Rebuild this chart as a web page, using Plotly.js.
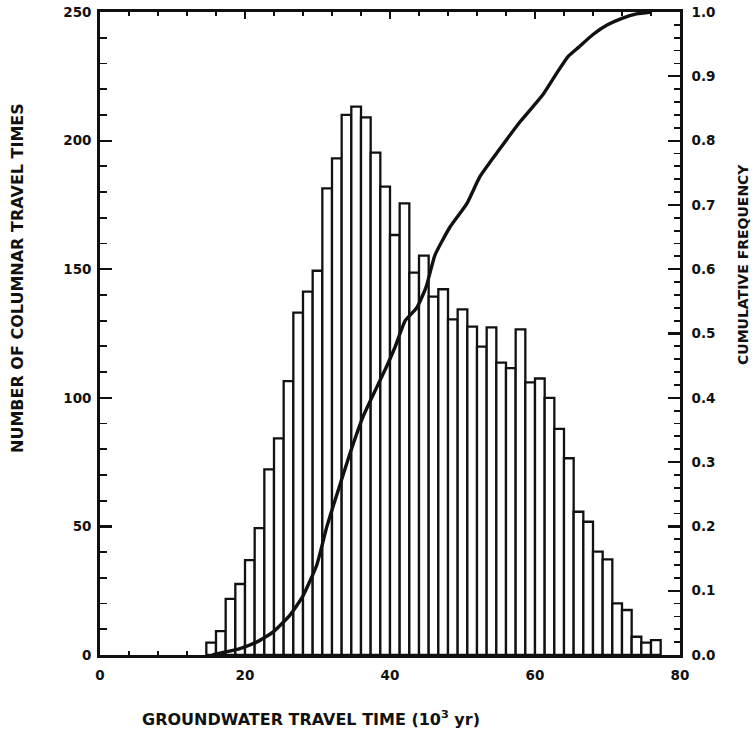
<!DOCTYPE html>
<html>
<head>
<meta charset="utf-8">
<script src="https://cdn.plot.ly/plotly-3.0.1.min.js"></script>
<style>html,body{margin:0;padding:0;background:#fff;}#chart{width:754px;height:735px;}</style>
</head>
<body>
<div id="chart"></div>
<script>
// Histogram counts (bins of 4/3 x 10^3 yr, first bin starting at 44/3)
const counts = [4.8, 9.3, 21.8, 27.6, 36.9, 49.3, 72.2, 84.2, 106.5, 133.1,
  141.3, 149.4, 181.4, 193.1, 210, 213.2, 209, 195.3, 182.1, 163.3,
  175.6, 148.7, 155.3, 139.3, 142.2, 130.5, 134.4, 127.7, 119.9, 127.4,
  113.7, 111.5, 126.6, 106.0, 107.5, 100, 87.9, 76.5, 55.7, 51.8,
  40.2, 37.2, 20.1, 17.5, 7.1, 4.8, 5.8];

// Cumulative frequency curve
const cumX = [15.5, 17, 19.3, 21.6, 23.9, 26.2, 28, 29.9, 31.3, 32.4, 34.5, 36.3, 38.2, 39.5,
  40.7, 42.1, 43.7, 45.0, 46.2, 48.3, 50.6, 52.4, 55, 58, 61, 63, 64.5, 66, 68, 70, 72, 74, 76];
const cumY = [0, 0.004, 0.01, 0.02, 0.036, 0.062, 0.092, 0.14, 0.2, 0.24, 0.314, 0.371, 0.417, 0.448,
  0.479, 0.52, 0.54, 0.573, 0.622, 0.666, 0.702, 0.744, 0.785, 0.83, 0.87, 0.905, 0.93, 0.945, 0.965, 0.98, 0.99, 0.997, 1.0];

const xTickVals = [0, 20, 40, 60, 80];
const yTickVals = [0, 50, 100, 150, 200, 250];
const y2TickVals = [0, 0.1, 0.2, 0.3, 0.4, 0.5, 0.6, 0.7, 0.8, 0.9, 1.0];

const xTitle = 'GROUNDWATER TRAVEL TIME (10<sup>3</sup> yr)';
const yTitle = 'NUMBER OF COLUMNAR TRAVEL TIMES';
const y2Title = 'CUMULATIVE FREQUENCY';

const fam = 'DejaVu Sans';
const tickFont = {family: fam, size: 13.5, color: '#111', weight: 'bold'};
const titleFont = {family: fam, size: 16, color: '#111', weight: 'bold'};
const title2Font = {family: fam, size: 14, color: '#111', weight: 'bold'};

const traces = [
  {
    type: 'bar', y: counts, x0: 44/3 + 2/3, dx: 4/3, width: 4/3,
    marker: {color: '#ffffff', line: {color: '#111', width: 2.3}},
    hoverinfo: 'skip', showlegend: false
  },
  {
    type: 'scatter', mode: 'lines', x: cumX, y: cumY, yaxis: 'y2',
    line: {color: '#111', width: 3.4, shape: 'spline', smoothing: 0.5},
    hoverinfo: 'skip', showlegend: false
  }
];

const layout = {
  width: 754, height: 735,
  margin: {l: 100, r: 74, t: 12, b: 80},
  paper_bgcolor: '#fff', plot_bgcolor: '#fff',
  bargap: 0,
  xaxis: {
    range: [0, 80], tickvals: xTickVals, ticktext: xTickVals.map(String),
    showgrid: false, zeroline: false, showline: true, linecolor: '#111', linewidth: 2.8,
    mirror: 'ticks', ticks: 'inside', ticklen: 7, tickwidth: 2, tickcolor: '#111',
    minor: {dtick: 4, ticks: 'inside', ticklen: 4, tickwidth: 1.8, tickcolor: '#111'},
    tickfont: tickFont, ticklabelstandoff: 6
  },
  yaxis: {
    range: [0, 250], tickvals: yTickVals, ticktext: yTickVals.map(String),
    showgrid: false, zeroline: false, showline: true, linecolor: '#111', linewidth: 2.8,
    ticks: 'inside', ticklen: 12, tickwidth: 2.2, tickcolor: '#111',
    minor: {dtick: 10, ticks: 'inside', ticklen: 7, tickwidth: 1.8, tickcolor: '#111'},
    tickfont: tickFont, ticklabelstandoff: 3
  },
  yaxis2: {
    range: [0, 1], overlaying: 'y', side: 'right', tickvals: y2TickVals,
    ticktext: y2TickVals.map(v => v.toFixed(1)),
    showgrid: false, zeroline: false, showline: true, linecolor: '#111', linewidth: 2.8,
    ticks: 'inside', ticklen: 12, tickwidth: 2.2, tickcolor: '#111',
    minor: {dtick: 0.02, ticks: 'inside', ticklen: 6, tickwidth: 1.8, tickcolor: '#111'},
    tickfont: tickFont, ticklabelstandoff: 6
  },
  annotations: [
    {text: xTitle, xref: 'paper', yref: 'paper', x: (311 - 100) / 580, y: -(718 - 655) / 643,
      xanchor: 'center', yanchor: 'middle', showarrow: false, font: titleFont},
    {text: yTitle, xref: 'paper', yref: 'paper', x: (17 - 100) / 580, y: (655 - 278) / 643,
      xanchor: 'center', yanchor: 'middle', textangle: -90, showarrow: false, font: titleFont},
    {text: y2Title, xref: 'paper', yref: 'paper', x: (743 - 100) / 580, y: (655 - 265) / 643,
      xanchor: 'center', yanchor: 'middle', textangle: -90, showarrow: false, font: title2Font}
  ]
};

Plotly.newPlot('chart', traces, layout, {displayModeBar: false, staticPlot: true});
</script>
</body>
</html>
